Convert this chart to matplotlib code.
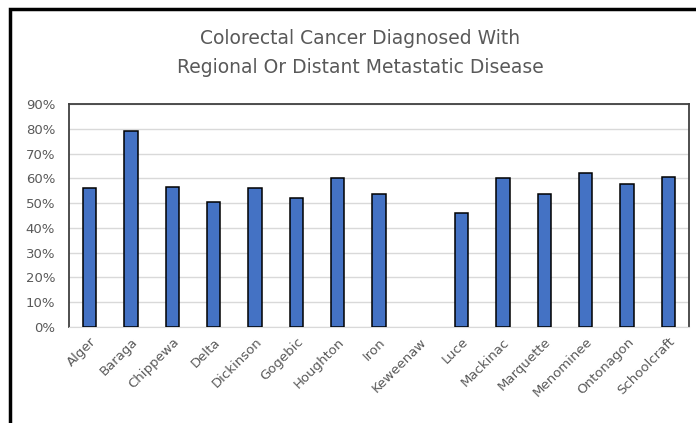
import matplotlib.pyplot as plt
import matplotlib.patches as patches
import numpy as np
from matplotlib.ticker import PercentFormatter

# Data (Keweenaw has no value)
counties = ['Alger', 'Baraga', 'Chippewa', 'Delta', 'Dickinson', 'Gogebic', 'Houghton',
            'Iron', 'Keweenaw', 'Luce', 'Mackinac', 'Marquette', 'Menominee',
            'Ontonagon', 'Schoolcraft']
pct_metastatic = [56, 79, 56.5, 50.5, 56, 52, 60, 53.5, np.nan, 46, 60, 53.5, 62, 57.7, 60.5]

title = 'Colorectal Cancer Diagnosed With\nRegional Or Distant Metastatic Disease'
text_color = '#595959'

fig = plt.figure(figsize=(6.96, 4.23), dpi=100)
ax = fig.add_axes([69 / 696, 1 - 327 / 423, 620 / 696, 223 / 423])

x = np.arange(len(counties))
ax.bar(x, pct_metastatic, width=0.32, color='#4472C4', edgecolor='black', linewidth=1.1, zorder=3)

ax.set_xlim(-0.5, len(counties) - 0.5)
ax.set_ylim(0, 90)
ax.set_yticks(np.arange(0, 91, 10))
ax.yaxis.set_major_formatter(PercentFormatter(decimals=0))
ax.grid(axis='y', color='#d9d9d9', linewidth=1, zorder=0)

ax.set_xticks(x)
ax.set_xticklabels(counties, rotation=45, ha='right', rotation_mode='anchor')
ax.tick_params(axis='both', length=0, labelsize=9.5, colors=text_color)
ax.tick_params(axis='x', pad=6)
ax.tick_params(axis='y', pad=10)

# Plot area border: dark on top, left, right; bottom is just the light 0% gridline
for side in ['top', 'left', 'right']:
    ax.spines[side].set_color('#404040')
    ax.spines[side].set_linewidth(1.3)
ax.spines['bottom'].set_color('#d9d9d9')

fig.text(360 / 696, 1 - 53 / 423, title, ha='center', va='center', fontsize=13.5,
         color=text_color, linespacing=1.7)

# outer frame of the chart (cut off on the right and bottom)
frame = patches.Rectangle((10 / 696, -0.1), 1.1, 1 - 9 / 423 + 0.1, transform=fig.transFigure,
                          fill=False, edgecolor='black', linewidth=2.5, clip_on=False)
fig.patches.append(frame)

fig.savefig('out.png', dpi=100)
